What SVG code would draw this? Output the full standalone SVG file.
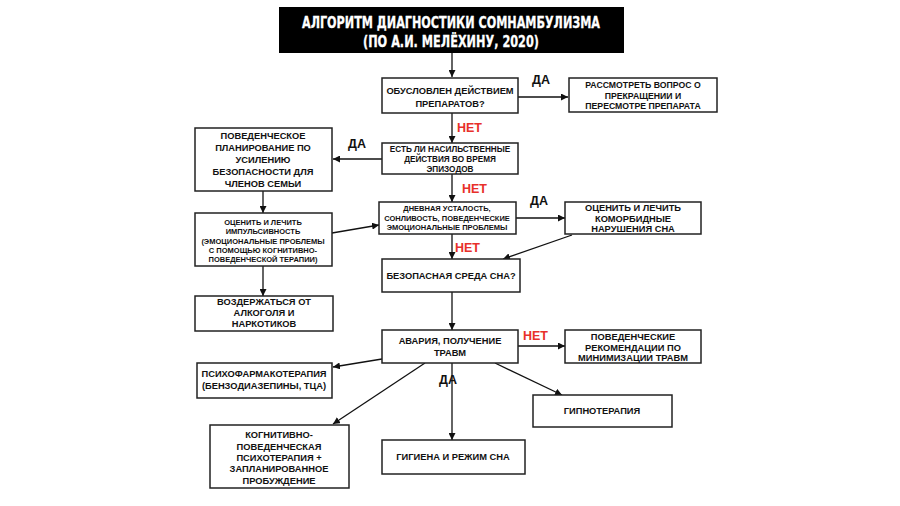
<svg xmlns="http://www.w3.org/2000/svg" width="900" height="506" viewBox="0 0 900 506">
<defs>
<marker id="ah" viewBox="0 0 10 10" refX="10" refY="5" markerWidth="7" markerHeight="7" markerUnits="userSpaceOnUse" orient="auto">
<path d="M0,0 L10,5 L0,10 z" fill="#111"/>
</marker>
<style>
.box{fill:#fff;stroke:#222;stroke-width:1.5}
.t{font-family:"Liberation Sans",Arial,sans-serif;font-weight:bold;fill:#111;text-anchor:middle}
.s9{font-size:9.3px}
.s87{font-size:8.7px}
.s8{font-size:8.2px}
.s7{font-size:7.5px}
.title{font-family:"Liberation Sans Narrow","DejaVu Sans Condensed","Liberation Sans",sans-serif;font-weight:bold;font-size:16px;fill:#fff;text-anchor:middle;stroke:#fff;stroke-width:0.3}
.lbl{font-family:"Liberation Sans",Arial,sans-serif;font-weight:bold;font-size:12.5px;fill:#111}
.no{fill:#e8302a}
.c{stroke:#111;stroke-width:1.3;fill:none;marker-end:url(#ah)}
</style>
</defs>
<rect width="900" height="506" fill="#fff"/>

<g id="connectors">
<line class="c" x1="452" y1="53" x2="452" y2="77"/>
<line class="c" x1="518" y1="97" x2="568" y2="97"/>
<line class="c" x1="452" y1="113" x2="452" y2="143"/>
<line class="c" x1="382" y1="159" x2="333" y2="159"/>
<line class="c" x1="452" y1="174" x2="452" y2="202"/>
<line class="c" x1="263" y1="191" x2="263" y2="213"/>
<line class="c" x1="332" y1="233" x2="379" y2="225"/>
<line class="c" x1="516" y1="218" x2="565" y2="218"/>
<line class="c" x1="572" y1="235" x2="503" y2="259"/>
<line class="c" x1="452" y1="234" x2="452" y2="259"/>
<line class="c" x1="263" y1="266" x2="263" y2="296"/>
<line class="c" x1="452" y1="292" x2="452" y2="330"/>
<line class="c" x1="518" y1="346" x2="565" y2="346"/>
<line class="c" x1="382" y1="359" x2="333" y2="367"/>
<line class="c" x1="425" y1="363" x2="333" y2="424"/>
<line class="c" x1="452" y1="363" x2="452" y2="440"/>
<line class="c" x1="495" y1="363" x2="562" y2="395"/>
</g>

<g id="labels">
<text class="lbl" x="532" y="84">ДА</text>
<text class="lbl no" x="457" y="132">НЕТ</text>
<text class="lbl" x="348" y="148">ДА</text>
<text class="lbl no" x="462" y="193">НЕТ</text>
<text class="lbl" x="530" y="205">ДА</text>
<text class="lbl no" x="455" y="252">НЕТ</text>
<text class="lbl no" x="523" y="340">НЕТ</text>
<text class="lbl" x="439" y="384">ДА</text>
</g>

<g id="title">
<rect x="279" y="7" width="345" height="46" fill="#000"/>
<text class="title" x="451" y="28" textLength="298" lengthAdjust="spacingAndGlyphs">АЛГОРИТМ ДИАГНОСТИКИ СОМНАМБУЛИЗМА</text>
<text class="title" x="451" y="47" textLength="176" lengthAdjust="spacingAndGlyphs">(ПО А.И. МЕЛЁХИНУ, 2020)</text>
</g>

<g id="q1">
<rect class="box" x="382" y="78" width="136" height="35"/>
<text class="t s9" x="450" y="94">ОБУСЛОВЛЕН ДЕЙСТВИЕМ</text>
<text class="t s9" x="450" y="107">ПРЕПАРАТОВ?</text>
</g>

<g id="drugs">
<rect class="box" x="569" y="78" width="148" height="34"/>
<text class="t s87" x="643" y="88">РАССМОТРЕТЬ ВОПРОС О</text>
<text class="t s87" x="643" y="98.5">ПРЕКРАЩЕНИИ И</text>
<text class="t s87" x="643" y="109">ПЕРЕСМОТРЕ ПРЕПАРАТА</text>
</g>

<g id="q2">
<rect class="box" x="382" y="143" width="136" height="31"/>
<text class="t s8" x="450" y="152">ЕСТЬ ЛИ НАСИЛЬСТВЕННЫЕ</text>
<text class="t s8" x="450" y="162">ДЕЙСТВИЯ ВО ВРЕМЯ</text>
<text class="t s8" x="450" y="172">ЭПИЗОДОВ</text>
</g>

<g id="safety">
<rect class="box" x="195" y="128" width="137" height="63"/>
<text class="t s9" x="263" y="139">ПОВЕДЕНЧЕСКОЕ</text>
<text class="t s9" x="263" y="151">ПЛАНИРОВАНИЕ ПО</text>
<text class="t s9" x="263" y="163">УСИЛЕНИЮ</text>
<text class="t s9" x="263" y="175">БЕЗОПАСНОСТИ ДЛЯ</text>
<text class="t s9" x="263" y="187">ЧЛЕНОВ СЕМЬИ</text>
</g>

<g id="q3">
<rect class="box" x="379" y="202" width="137" height="32"/>
<text class="t s7" x="447" y="211">ДНЕВНАЯ УСТАЛОСТЬ,</text>
<text class="t s7" x="447" y="220.5">СОНЛИВОСТЬ, ПОВЕДЕНЧЕСКИЕ</text>
<text class="t s7" x="447" y="230">ЭМОЦИОНАЛЬНЫЕ ПРОБЛЕМЫ</text>
</g>

<g id="comorbid">
<rect class="box" x="565" y="202" width="136" height="32"/>
<text class="t s9" x="633" y="211">ОЦЕНИТЬ И ЛЕЧИТЬ</text>
<text class="t s9" x="633" y="221.5">КОМОРБИДНЫЕ</text>
<text class="t s9" x="633" y="232">НАРУШЕНИЯ СНА</text>
</g>

<g id="impulsivity">
<rect class="box" x="195" y="213" width="137" height="53"/>
<text class="t s7" x="263" y="225">ОЦЕНИТЬ И ЛЕЧИТЬ</text>
<text class="t s7" x="263" y="234">ИМПУЛЬСИВНОСТЬ</text>
<text class="t s7" x="263" y="243.5">(ЭМОЦИОНАЛЬНЫЕ ПРОБЛЕМЫ</text>
<text class="t s7" x="263" y="253">С ПОМОЩЬЮ КОГНИТИВНО-</text>
<text class="t s7" x="263" y="262">ПОВЕДЕНЧЕСКОЙ ТЕРАПИИ)</text>
</g>

<g id="q4">
<rect class="box" x="382" y="259" width="138" height="33"/>
<text class="t s9" x="451" y="279">БЕЗОПАСНАЯ СРЕДА СНА?</text>
</g>

<g id="abstain">
<rect class="box" x="195" y="296" width="138" height="35"/>
<text class="t s9" x="264" y="305">ВОЗДЕРЖАТЬСЯ ОТ</text>
<text class="t s9" x="264" y="316">АЛКОГОЛЯ И</text>
<text class="t s9" x="264" y="327">НАРКОТИКОВ</text>
</g>

<g id="q5">
<rect class="box" x="382" y="330" width="136" height="33"/>
<text class="t s9" x="450" y="344">АВАРИЯ, ПОЛУЧЕНИЕ</text>
<text class="t s9" x="450" y="356">ТРАВМ</text>
</g>

<g id="injury">
<rect class="box" x="565" y="330" width="136" height="33"/>
<text class="t s9" x="633" y="340">ПОВЕДЕНЧЕСКИЕ</text>
<text class="t s9" x="633" y="350.5">РЕКОМЕНДАЦИИ ПО</text>
<text class="t s9" x="633" y="361">МИНИМИЗАЦИИ ТРАВМ</text>
</g>

<g id="pharma">
<rect class="box" x="197" y="363" width="135" height="35"/>
<text class="t s9" x="264" y="377">ПСИХОФАРМАКОТЕРАПИЯ</text>
<text class="t s9" x="264" y="389">(БЕНЗОДИАЗЕПИНЫ, ТЦА)</text>
</g>

<g id="hypno">
<rect class="box" x="533" y="395" width="139" height="32"/>
<text class="t s9" x="602" y="414">ГИПНОТЕРАПИЯ</text>
</g>

<g id="cbt">
<rect class="box" x="210" y="425" width="139" height="63"/>
<text class="t s9" x="279" y="438">КОГНИТИВНО-</text>
<text class="t s9" x="279" y="450">ПОВЕДЕНЧЕСКАЯ</text>
<text class="t s9" x="279" y="461">ПСИХОТЕРАПИЯ +</text>
<text class="t s9" x="279" y="472">ЗАПЛАНИРОВАННОЕ</text>
<text class="t s9" x="279" y="484">ПРОБУЖДЕНИЕ</text>
</g>

<g id="hygiene">
<rect class="box" x="382" y="440" width="143" height="34"/>
<text class="t s9" x="453" y="460">ГИГИЕНА И РЕЖИМ СНА</text>
</g>
</svg>
